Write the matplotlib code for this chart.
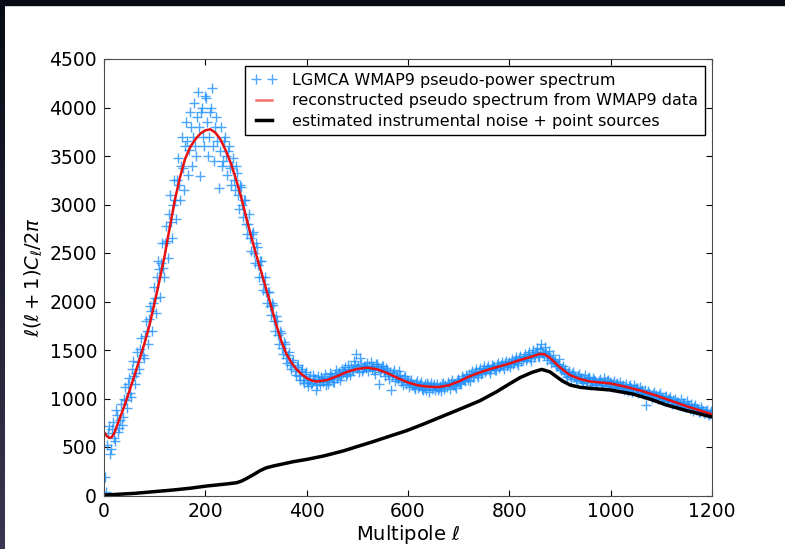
import numpy as np
import matplotlib
matplotlib.use("Agg")
import matplotlib.pyplot as plt
from matplotlib.colors import LinearSegmentedColormap

# LGMCA WMAP9 pseudo-power spectrum
# (two interleaved sets of multipoles: 2, 6, 10, ... and 4, 8, 12, ...)
ell_a = np.arange(2, 1200, 4)
cl_a = [
    190, 520, 720, 480, 760, 560, 830, 700, 940, 810,
    1120, 900, 1210, 1020, 1390, 1150, 1480, 1300, 1620, 1420,
    1800, 1560, 1950, 1700, 2150, 1880, 2420, 2050, 2600, 2250,
    2780, 2450, 3100, 2650, 3250, 2850, 3480, 3050, 3700, 3150,
    3850, 3300, 3950, 3400, 4050, 3500, 4160, 3290, 4000, 3600,
    4100, 3500, 3950, 4200, 3450, 3900, 3170, 3800, 3450, 3700,
    3300, 3600, 3200, 3480, 3150, 3320, 2950, 3180, 2870, 3050,
    2700, 2900, 2520, 2720, 2400, 2560, 2250, 2420, 2120, 2250,
    1980, 2100, 1860, 1960, 1700, 1800, 1560, 1680, 1460, 1560,
    1370, 1480, 1300, 1400, 1240, 1350, 1190, 1300, 1160, 1270,
    1130, 1235, 1160, 1205, 1090, 1230, 1150, 1195, 1210, 1140,
    1150, 1260, 1225, 1170, 1290, 1240, 1195, 1300, 1280, 1230,
    1350, 1240, 1300, 1390, 1460, 1330, 1420, 1280, 1340, 1310,
    1280, 1380, 1330, 1250, 1360, 1150, 1300, 1340, 1230, 1290,
    1200, 1090, 1260, 1180, 1235, 1280, 1170, 1140, 1230, 1195,
    1120, 1190, 1150, 1100, 1180, 1130, 1170, 1090, 1145, 1160,
    1070, 1160, 1130, 1085, 1150, 1110, 1075, 1160, 1140, 1170,
    1100, 1190, 1150, 1110, 1200, 1160, 1230, 1200, 1240, 1190,
    1180, 1280, 1240, 1300, 1220, 1310, 1260, 1330, 1290, 1340,
    1260, 1350, 1320, 1290, 1370, 1330, 1380, 1300, 1390, 1360,
    1320, 1410, 1380, 1430, 1350, 1440, 1400, 1460, 1420, 1480,
    1390, 1500, 1450, 1520, 1430, 1560, 1470, 1530, 1400, 1490,
    1370, 1450, 1390, 1330, 1410, 1290, 1340, 1300, 1220, 1280,
    1200, 1270, 1230, 1180, 1250, 1210, 1160, 1240, 1190, 1220,
    1140, 1210, 1180, 1135, 1200, 1160, 1210, 1125, 1195, 1170,
    1120, 1180, 1145, 1105, 1170, 1130, 1090, 1150, 1080, 1140,
    1070, 1135, 1110, 1060, 1120, 1090, 1050, 930, 1080, 1040,
    1010, 1070, 1040, 1000, 1060, 1020, 975, 1030, 990, 1015,
    945, 1000, 960, 930, 990, 950, 915, 975, 920, 945,
    875, 930, 900, 860, 915, 870, 850, 885, 830, 870,
]
ell_b = np.arange(4, 1201, 4)
cl_b = [
    40, 640, 430, 690, 590, 880, 650, 780, 730, 1000,
    980, 1150, 1060, 1300, 1230, 1260, 1380, 1510, 1450, 1640,
    1700, 1820, 1900, 1980, 2040, 2250, 2330, 2400, 2350, 2600,
    2620, 2900, 2820, 3000, 3050, 3250, 3200, 3400, 3380, 3600,
    3650, 3560, 3800, 3700, 3600, 3900, 3800, 3950, 3700, 4120,
    3850, 3700, 4000, 3600, 3800, 3650, 3550, 3400, 3650, 3500,
    3550, 3380, 3400, 3250, 3400, 3100, 3200, 3000, 3050, 2800,
    2800, 2650, 2700, 2500, 2600, 2380, 2420, 2250, 2180, 2100,
    2100, 1950, 1980, 1800, 1850, 1650, 1700, 1520, 1580, 1420,
    1450, 1350, 1380, 1280, 1320, 1230, 1280, 1190, 1250, 1170,
    1190, 1150, 1240, 1200, 1140, 1180, 1220, 1170, 1250, 1190,
    1200, 1230, 1170, 1250, 1210, 1270, 1230, 1260, 1320, 1250,
    1290, 1320, 1280, 1350, 1310, 1270, 1360, 1300, 1330, 1370,
    1340, 1300, 1290, 1360, 1320, 1270, 1330, 1280, 1310, 1250,
    1270, 1230, 1290, 1220, 1200, 1240, 1190, 1210, 1150, 1180,
    1170, 1140, 1120, 1160, 1110, 1150, 1100, 1120, 1090, 1140,
    1130, 1100, 1150, 1120, 1090, 1130, 1150, 1100, 1120, 1150,
    1160, 1140, 1130, 1180, 1170, 1150, 1210, 1180, 1220, 1250,
    1250, 1220, 1270, 1240, 1280, 1250, 1300, 1270, 1310, 1290,
    1300, 1330, 1290, 1350, 1310, 1350, 1330, 1370, 1340, 1380,
    1370, 1360, 1400, 1370, 1420, 1390, 1430, 1400, 1450, 1420,
    1460, 1430, 1480, 1440, 1510, 1480, 1450, 1470, 1440, 1420,
    1400, 1380, 1340, 1360, 1310, 1300, 1270, 1250, 1260, 1230,
    1250, 1220, 1200, 1230, 1210, 1180, 1200, 1170, 1210, 1180,
    1170, 1190, 1150, 1180, 1160, 1140, 1170, 1180, 1150, 1160,
    1150, 1120, 1160, 1130, 1110, 1140, 1120, 1100, 1130, 1110,
    1100, 1090, 1110, 1070, 1080, 1060, 1090, 1050, 1060, 1030,
    1050, 1030, 1010, 1040, 990, 1000, 1020, 970, 990, 960,
    980, 950, 960, 940, 920, 950, 910, 930, 890, 900,
    910, 880, 890, 860, 880, 850, 870, 840, 855, 830,
]

# reconstructed pseudo spectrum
ell_rec = [2, 6, 10, 15, 20, 30, 40, 50, 60, 70, 80, 90, 100, 110, 120, 130, 140,
           150, 160, 170, 180, 190, 200, 210, 220, 230, 240, 250, 260, 270, 280,
           290, 300, 310, 320, 330, 340, 350, 360, 370, 380, 390, 400, 410, 420,
           440, 460, 480, 500, 520, 540, 560, 580, 600, 620, 640, 660, 680, 700,
           720, 740, 760, 780, 800, 820, 840, 860, 870, 880, 890, 900, 920, 940,
           960, 980, 1000, 1030, 1060, 1090, 1120, 1150, 1180, 1200]
cl_rec = [640, 610, 595, 600, 640, 780, 920, 1075, 1235, 1400, 1570, 1760, 1990,
          2230, 2480, 2770, 3050, 3280, 3470, 3590, 3670, 3730, 3765, 3775, 3740,
          3670, 3560, 3430, 3270, 3090, 2880, 2680, 2490, 2310, 2130, 1950, 1760,
          1590, 1460, 1370, 1300, 1250, 1210, 1185, 1175, 1190, 1230, 1275, 1305,
          1318, 1300, 1260, 1210, 1165, 1135, 1122, 1118, 1135, 1175, 1225, 1265,
          1300, 1330, 1360, 1395, 1425, 1460, 1455, 1420, 1370, 1320, 1240, 1200,
          1175, 1165, 1155, 1120, 1080, 1030, 975, 920, 870, 838]

# instrumental noise + point sources
ell_noise = [2, 60, 137, 170, 203, 242, 262, 272, 282, 295, 308, 320, 334, 350,
             374, 400, 433, 472, 500, 531, 560, 597, 630, 663, 700, 742, 775,
             800, 821, 845, 864, 880, 893, 905, 920, 940, 959, 999, 1044, 1080,
             1110, 1150, 1200]
cl_noise = [5, 22, 57, 75, 98, 119, 132, 150, 177, 215, 256, 285, 304, 322,
            349, 372, 407, 459, 505, 555, 605, 668, 735, 806, 885, 977, 1070,
            1150, 1215, 1270, 1300, 1275, 1225, 1180, 1139, 1115, 1105, 1088,
            1046, 990, 933, 875, 810]

fig = plt.figure(figsize=(7.85, 5.49), dpi=100)

# dark screen border (top and left)
fig.patches.append(plt.Rectangle((0, 1 - 5 / 549), 1, 5 / 549, transform=fig.transFigure,
                                 color="#070b16", zorder=0))
band = fig.add_axes([0, 0, 5 / 785, 1])
grad = np.linspace(0, 1, 100)[:, None]
cmap = LinearSegmentedColormap.from_list("edge", ["#070b16", "#3b3650"])
band.imshow(grad, aspect="auto", cmap=cmap, extent=[0, 1, 0, 1], origin="upper")
band.axis("off")

ax = fig.add_axes([104 / 785, 1 - 495.5 / 549, 608 / 785, 436.5 / 549])
ell_all = np.concatenate([ell_a, ell_b])
cl_all = np.concatenate([cl_a, cl_b])
ax.plot(ell_all, cl_all, "+", color="#1e90ff", ms=6.5, mew=1.0, alpha=0.8,
        label="LGMCA WMAP9 pseudo-power spectrum")
ax.plot(ell_rec, cl_rec, "-", color="#e81010", lw=1.8,
        label="reconstructed pseudo spectrum from WMAP9 data")
ax.plot(ell_noise, cl_noise, "-", color="black", lw=2.5,
        label="estimated instrumental noise + point sources")

ax.set_xlim(0, 1200)
ax.set_ylim(0, 4500)
ax.set_xticks(range(0, 1201, 200))
ax.set_yticks(range(0, 4501, 500))
ax.tick_params(direction="in", top=True, right=True, length=4, labelsize=13.5, pad=5)
for s in ax.spines.values():
    s.set_color("0.3")
ax.set_xlabel(r"Multipole $\ell$", fontsize=14, labelpad=1)
ax.set_ylabel(r"$\ell(\ell+1)C_\ell/2\pi$", fontsize=14, labelpad=3)

leg = ax.legend(loc="upper right", numpoints=2, fontsize=11.5, fancybox=False,
                framealpha=1, edgecolor="black", handlelength=1.6,
                handletextpad=1.0, labelspacing=0.35, borderaxespad=0.45)
leg.get_frame().set_linewidth(1.0)
leg.get_lines()[1].set_alpha(0.6)

fig.savefig("out.png", dpi=100)
